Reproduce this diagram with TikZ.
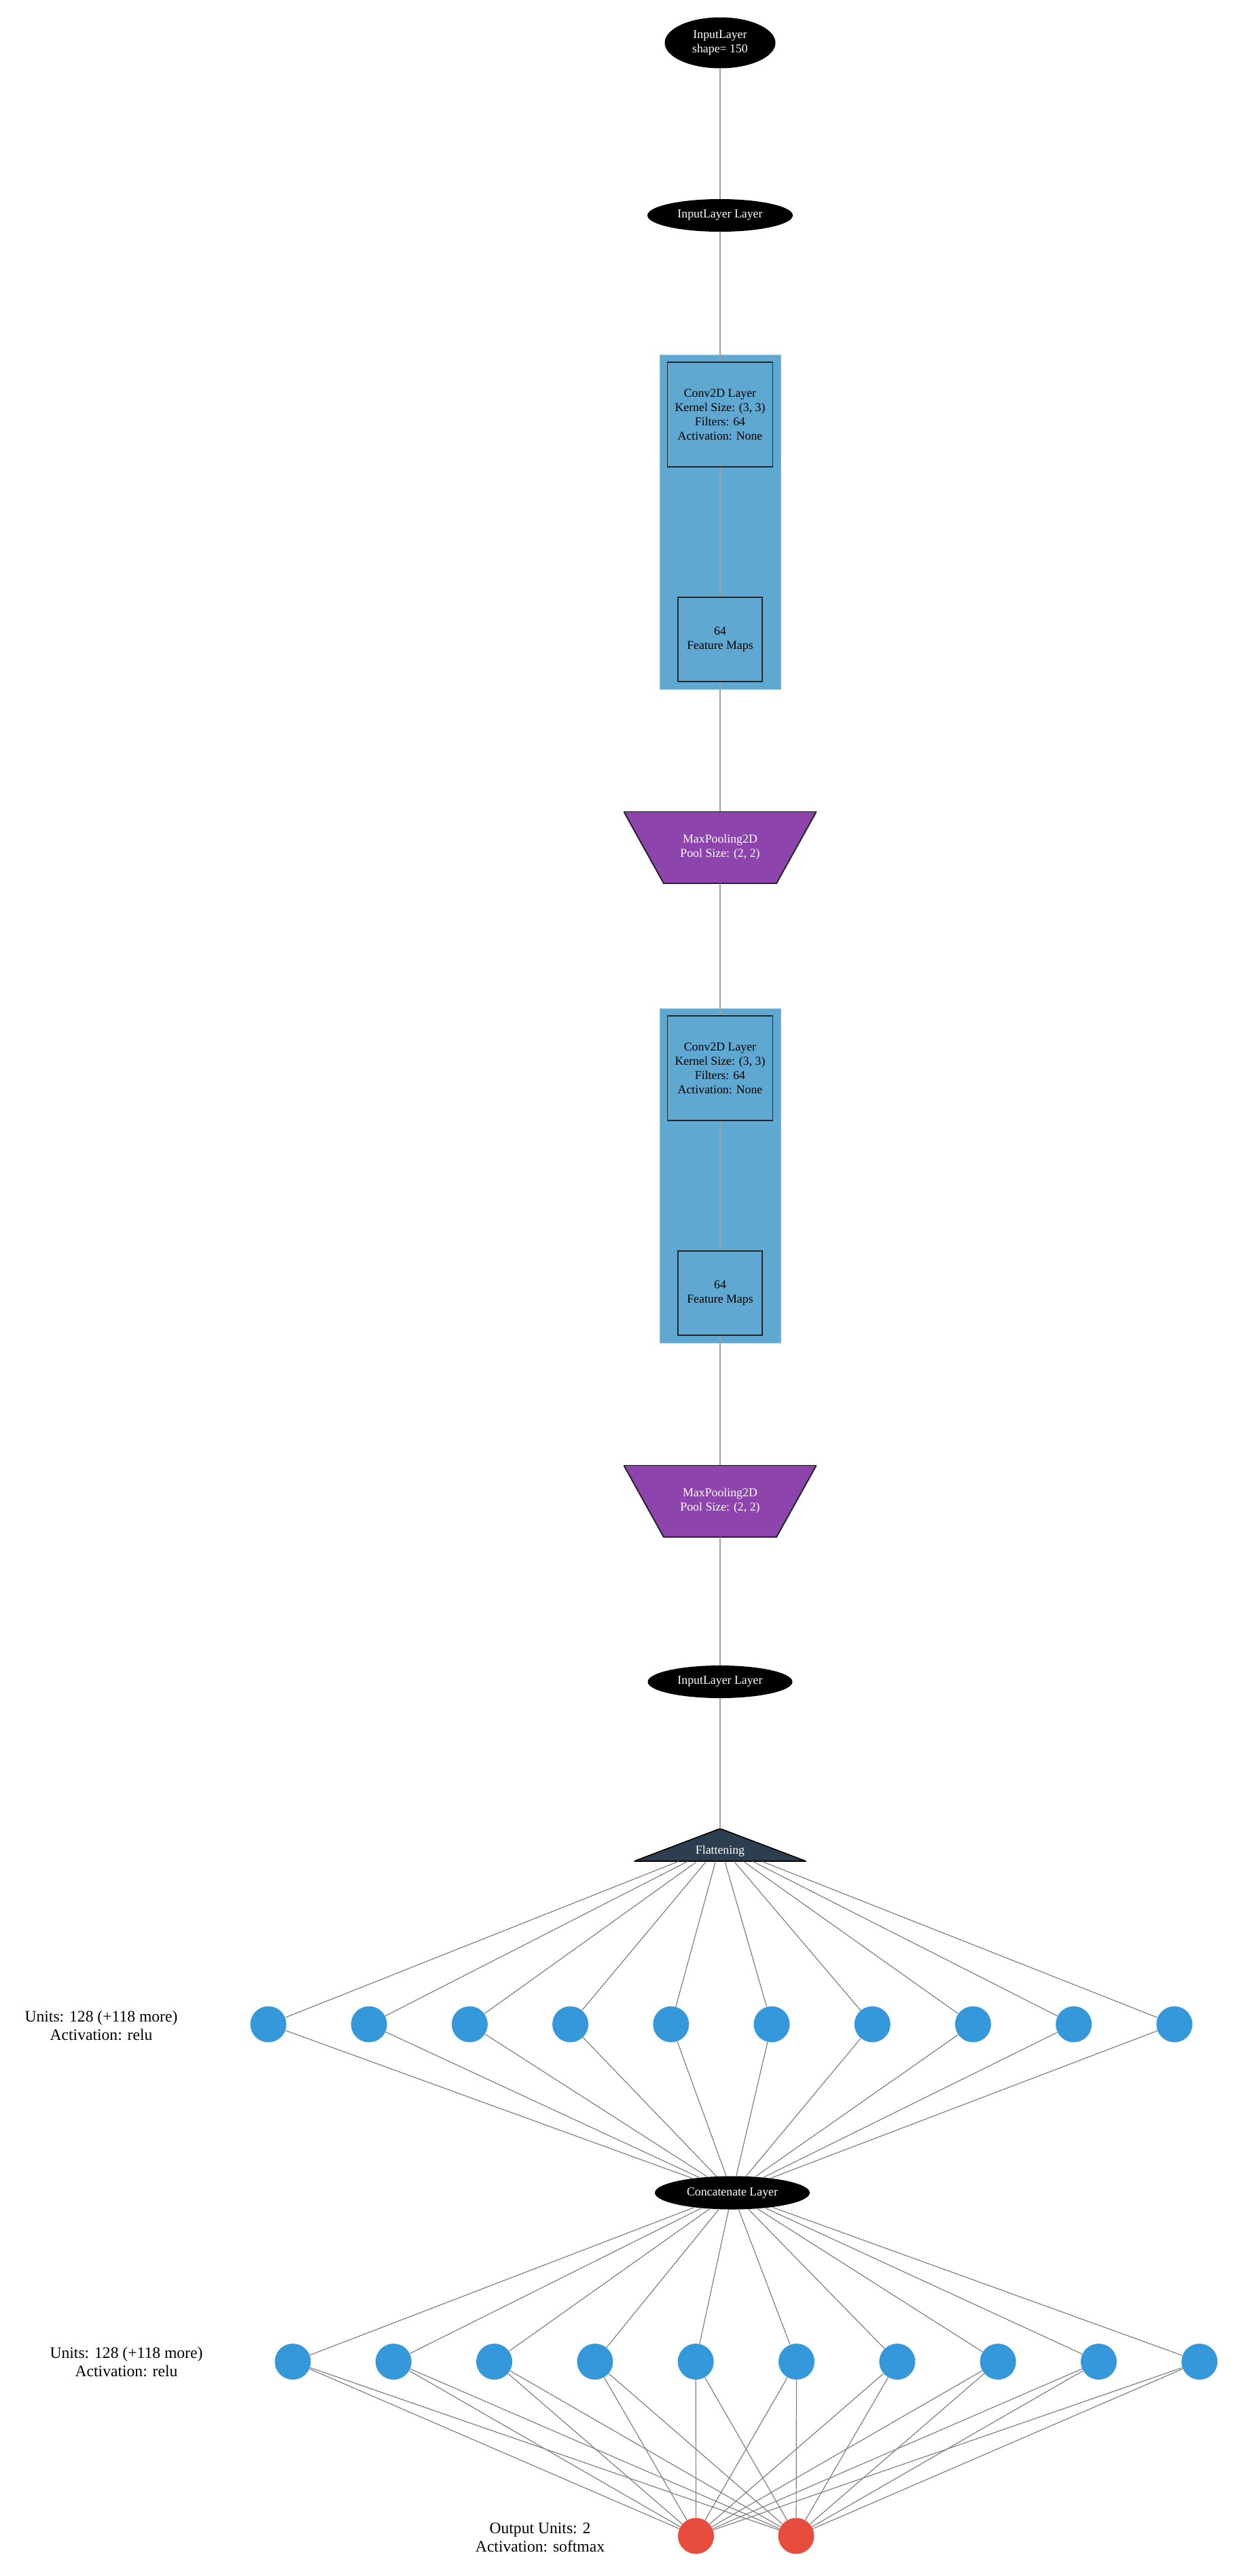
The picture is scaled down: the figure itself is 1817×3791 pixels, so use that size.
\documentclass[tikz,border=0pt]{standalone}
\usepackage{fontspec}
\setmainfont{Liberation Serif}
\usetikzlibrary{shapes.geometric}

\definecolor{clusterblue}{HTML}{5FA8D1}
\definecolor{poolpurple}{HTML}{8E44AD}
\definecolor{flatnavy}{HTML}{2C3E50}
\definecolor{unitblue}{HTML}{3498DB}
\definecolor{outred}{HTML}{E74C3C}
\definecolor{edgegray}{HTML}{808080}
\definecolor{chaingray}{HTML}{A0A0A0}

\newcommand{\smallfont}{\fontsize{8.9}{10.5}\selectfont}
\newcommand{\labelfont}{\fontsize{11.8}{13.5}\selectfont}

\tikzset{
	blackoval/.style={ellipse, fill=black, text=white, inner sep=0pt, font=\smallfont, align=center},
	clusterbox/.style={rectangle, fill=clusterblue, draw=clusterblue!75!white, inner sep=0pt, minimum width=89pt, minimum height=246pt},
	layerbox/.style={rectangle, draw=black!85, line width=0.6pt, inner sep=0pt, font=\smallfont, align=center},
	poolbox/.style={rectangle, inner sep=0pt, minimum width=142pt, minimum height=53pt, text=white, font=\smallfont, align=center,
		path picture={\filldraw[fill=poolpurple, draw=black!85, line width=1pt]
			(path picture bounding box.north west) -- (path picture bounding box.north east)
			-- ([xshift=-29.5pt]path picture bounding box.south east)
			-- ([xshift=29.5pt]path picture bounding box.south west) -- cycle;}},
	flatbox/.style={rectangle, inner sep=0pt, minimum width=126.5pt, minimum height=24pt,
		path picture={\filldraw[fill=flatnavy, draw=black, line width=0.8pt]
			(path picture bounding box.south west) -- (path picture bounding box.north)
			-- (path picture bounding box.south east) -- cycle;}},
	flattext/.style={text=white, font=\smallfont, yshift=-4.5pt},
	unit/.style={circle, fill=unitblue, inner sep=0pt, minimum size=26.5pt},
	outunit/.style={circle, fill=outred, inner sep=0pt, minimum size=26.5pt},
	sidelabel/.style={font=\labelfont, align=center},
	chain/.style={draw=chaingray, line width=0.7pt},
	link/.style={draw=edgegray, line width=0.6pt}
}

\begin{document}
\begin{tikzpicture}[x=0.5pt, y=-0.5pt]
	% Canvas
	\fill[white] (0,0) rectangle (1817,3791);
	\useasboundingbox (0,0) rectangle (1817,3791);
	
	% Define the variables
	\def\mid{1060}
	\def\shift{962}
	
	% Input layers
	\node[blackoval, minimum width=81.5pt, minimum height=37.5pt] (in0) at (\mid,63) {InputLayer\\shape= 150};
	\node[blackoval, minimum width=107pt, minimum height=24pt] (in1) at (\mid,317) {InputLayer Layer};
	
	% Convolution blocks
	\node[clusterbox] (blk1) at (\mid,768) {};
	\node[layerbox, minimum width=77.5pt, minimum height=77pt] (conv1) at (\mid,610) {Conv2D Layer\\Kernel Size: (3, 3)\\Filters: 64\\Activation: None};
	\node[layerbox, minimum size=62pt] (fm1) at (\mid,941) {64\\Feature Maps};
	\node[poolbox] (pool1) at (\mid,1247) {MaxPooling2D\\Pool Size: (2, 2)};
	
	\node[clusterbox] (blk2) at (\mid,768+\shift) {};
	\node[layerbox, minimum width=77.5pt, minimum height=77pt] (conv2) at (\mid,610+\shift) {Conv2D Layer\\Kernel Size: (3, 3)\\Filters: 64\\Activation: None};
	\node[layerbox, minimum size=62pt] (fm2) at (\mid,941+\shift) {64\\Feature Maps};
	\node[poolbox] (pool2) at (\mid,1247+\shift) {MaxPooling2D\\Pool Size: (2, 2)};
	
	% Flattening
	\node[blackoval, minimum width=106.5pt, minimum height=24pt] (in2) at (\mid,2475) {InputLayer Layer};
	\node[flatbox, label={[flattext]center:Flattening}] (flat) at (\mid,2715) {};
	
	% Dense layers
	\foreach \i in {0,...,9}
	\node[unit] (da\i) at ({395+148.2*\i},2979) {};
	\node[blackoval, minimum width=114pt, minimum height=24.5pt] (concat) at (1078,3227) {Concatenate Layer};
	\foreach \i in {0,...,9}
	\node[unit] (db\i) at ({431+148.3*\i},3475.5) {};
	\node[outunit] (out0) at (1024.5,3732) {};
	\node[outunit] (out1) at (1172,3732) {};
	
	% Labels
	\node[sidelabel] (lbla) at (149,2981) {Units: 128 (+118 more)\\Activation: relu};
	\node[sidelabel] (lblb) at (186,3476) {Units: 128 (+118 more)\\Activation: relu};
	\node[sidelabel] (lblout) at (795,3734) {Output Units: 2\\Activation: softmax};
	
	% Edges
	\foreach \src/\dst in {in0/in1, in1/conv1, conv1/fm1, fm1/pool1, pool1/conv2, conv2/fm2, fm2/pool2, pool2/in2, in2/flat}
	\draw[chain] (\src) -- (\dst);
	
	\foreach \i in {0,...,9} {
		\draw[link] (flat) -- (da\i);
		\draw[link] (da\i) -- (concat);
		\draw[link] (concat) -- (db\i);
		\draw[link] (db\i) -- (out0);
		\draw[link] (db\i) -- (out1);
	}
\end{tikzpicture}
\end{document}
